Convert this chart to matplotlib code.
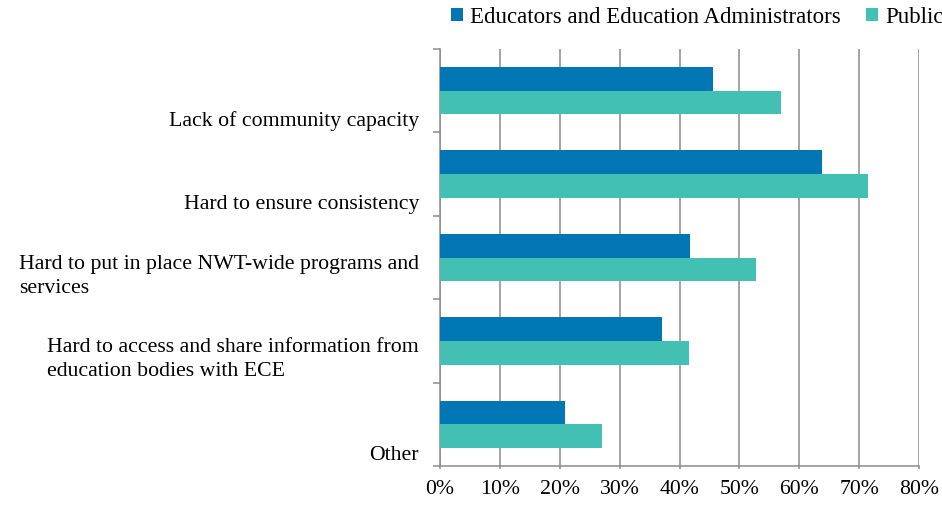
import numpy as np
import matplotlib.pyplot as plt
from matplotlib.patches import Patch
from matplotlib.ticker import PercentFormatter
from matplotlib.transforms import blended_transform_factory

# Survey responses: share of respondents choosing each challenge
categories = [
    "Lack of community capacity",
    "Hard to ensure consistency",
    "Hard to put in place NWT-wide programs and\nservices",
    "Hard to access and share information from\neducation bodies with ECE",
    "Other",
]
educators = [45.6, 63.8, 41.8, 37.1, 20.9]
public = [56.9, 71.5, 52.8, 41.6, 27.0]
series_names = ["Educators and Education Administrators", "Public"]

blue = "#0076b5"
teal = "#42c0b4"
grid_gray = "#8c8c8c"

plt.rcParams['font.family'] = ['Liberation Serif', 'DejaVu Serif']
fs = 15.7

fig = plt.figure(figsize=(9.42, 5.05), dpi=100)
ax = fig.add_axes([440 / 942, 1 - 466 / 505, 479 / 942, 417 / 505])

y = np.arange(len(categories))
h = 0.284
ax.barh(y - h / 2, educators, height=h, color=blue, zorder=3)
ax.barh(y + h / 2, public, height=h, color=teal, zorder=3)

ax.set_xlim(0, 80)
ax.set_ylim(len(categories) - 0.5, -0.5)
ax.set_xticks(np.arange(0, 81, 10))
ax.xaxis.set_major_formatter(PercentFormatter(decimals=0))
ax.grid(axis='x', color=grid_gray, linewidth=1.1, zorder=0)

# category separators on the y axis, labels drawn separately
ax.set_yticks(np.arange(-0.5, len(categories), 1.0))
ax.set_yticklabels([])
ax.tick_params(axis='y', direction='out', length=5, width=1.1, color=grid_gray)
ax.tick_params(axis='x', direction='out', length=2, width=1.1, color=grid_gray,
               labelsize=fs, pad=8)

for s in ['top', 'right']:
    ax.spines[s].set_visible(False)
for s in ['left', 'bottom']:
    ax.spines[s].set_color(grid_gray)
    ax.spines[s].set_linewidth(1.1)

# labels sit low in each band, last line anchored near the band's bottom
trans = blended_transform_factory(fig.transFigure, ax.transData)
for i, label in enumerate(categories):
    ax.text(419 / 942, i + 0.483, label, transform=trans, ha='right',
            va='bottom', multialignment='left', fontsize=fs, linespacing=1.35)

handles = [Patch(facecolor=blue), Patch(facecolor=teal)]
fig.legend(handles, series_names, loc='upper right', bbox_to_anchor=(1.016, 1.014),
           ncol=2, frameon=False, fontsize=16.5, handlelength=0.52, handleheight=0.52,
           handletextpad=0.3, columnspacing=1.1, borderaxespad=0.2)

fig.savefig("out.png", dpi=100)
